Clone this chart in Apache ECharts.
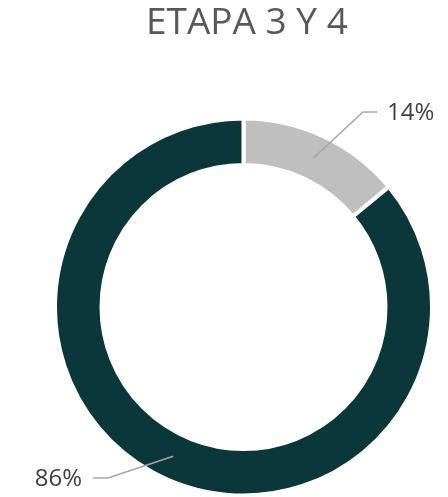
<!DOCTYPE html>
<html>
<head>
<meta charset="utf-8">
<script src="https://cdn.jsdelivr.net/npm/echarts@6/dist/echarts.min.js"></script>
<style>
  html, body { margin: 0; padding: 0; background: #ffffff; }
  #chart { width: 448px; height: 497px; }
</style>
</head>
<body>
<div id="chart"></div>
<script>
// Stage shares, in percent
const categories = ['Etapa A', 'Etapa B'];
const values = [14, 86];
const sliceColors = ['#bfbfbf', '#0b363a'];

const CX = 243.5, CY = 307;
const OUTER = 188.5, INNER = 142;
const START = 90;
const ANCHOR_R = 165;

// Label placement: elbow point, line end, text anchor, alignment
const labelSpots = [
  { elbow: [363, 112], end: [377, 112], text: [387, 113], align: 'left' },
  { elbow: [108, 478], end: [93, 478], text: [82, 479], align: 'right' }
];

const total = values.reduce((a, b) => a + b, 0);
function anchorFor(i) {
  let before = 0;
  for (let k = 0; k < i; k++) before += values[k];
  const mid = START - (before + values[i] / 2) / total * 360;
  const rad = mid * Math.PI / 180;
  return [CX + ANCHOR_R * Math.cos(rad), CY - ANCHOR_R * Math.sin(rad)];
}

const pieData = categories.map((name, i) => ({
  name: name,
  value: values[i],
  itemStyle: { color: sliceColors[i] }
}));

const chart = echarts.init(document.getElementById('chart'), null, { renderer: 'canvas' });
chart.setOption({
  backgroundColor: '#ffffff',
  animation: false,
  title: {
    text: 'ETAPA 3 Y 4',
    left: 141,
    top: 0,
    textStyle: {
      fontFamily: 'Open Sans',
      fontWeight: 400,
      fontSize: 37,
      color: '#595959'
    }
  },
  series: [
    {
      // ring
      type: 'pie',
      z: 2,
      center: [CX, CY],
      radius: [INNER, OUTER],
      startAngle: START,
      clockwise: true,
      silent: true,
      itemStyle: { borderColor: '#ffffff', borderWidth: 4 },
      label: { show: false },
      labelLine: { show: false },
      data: pieData
    },
    {
      // value labels with leader lines, drawn over the ring
      type: 'pie',
      z: 5,
      center: [CX, CY],
      radius: [INNER, OUTER],
      startAngle: START,
      clockwise: true,
      silent: true,
      avoidLabelOverlap: false,
      itemStyle: { color: 'rgba(0,0,0,0)', borderWidth: 0 },
      label: {
        show: true,
        position: 'outside',
        formatter: '{c}%',
        fontFamily: 'Open Sans',
        fontSize: 24,
        color: '#404040'
      },
      labelLine: {
        show: true,
        length: 20,
        length2: 10,
        lineStyle: { color: '#a6a6a6', width: 1.5 }
      },
      labelLayout: function (params) {
        const i = params.dataIndex;
        const s = labelSpots[i];
        return {
          x: s.text[0],
          y: s.text[1],
          align: s.align,
          verticalAlign: 'middle',
          labelLinePoints: [anchorFor(i), s.elbow, s.end]
        };
      },
      data: categories.map((name, i) => ({ name: name, value: values[i] }))
    }
  ]
});
</script>
</body>
</html>
